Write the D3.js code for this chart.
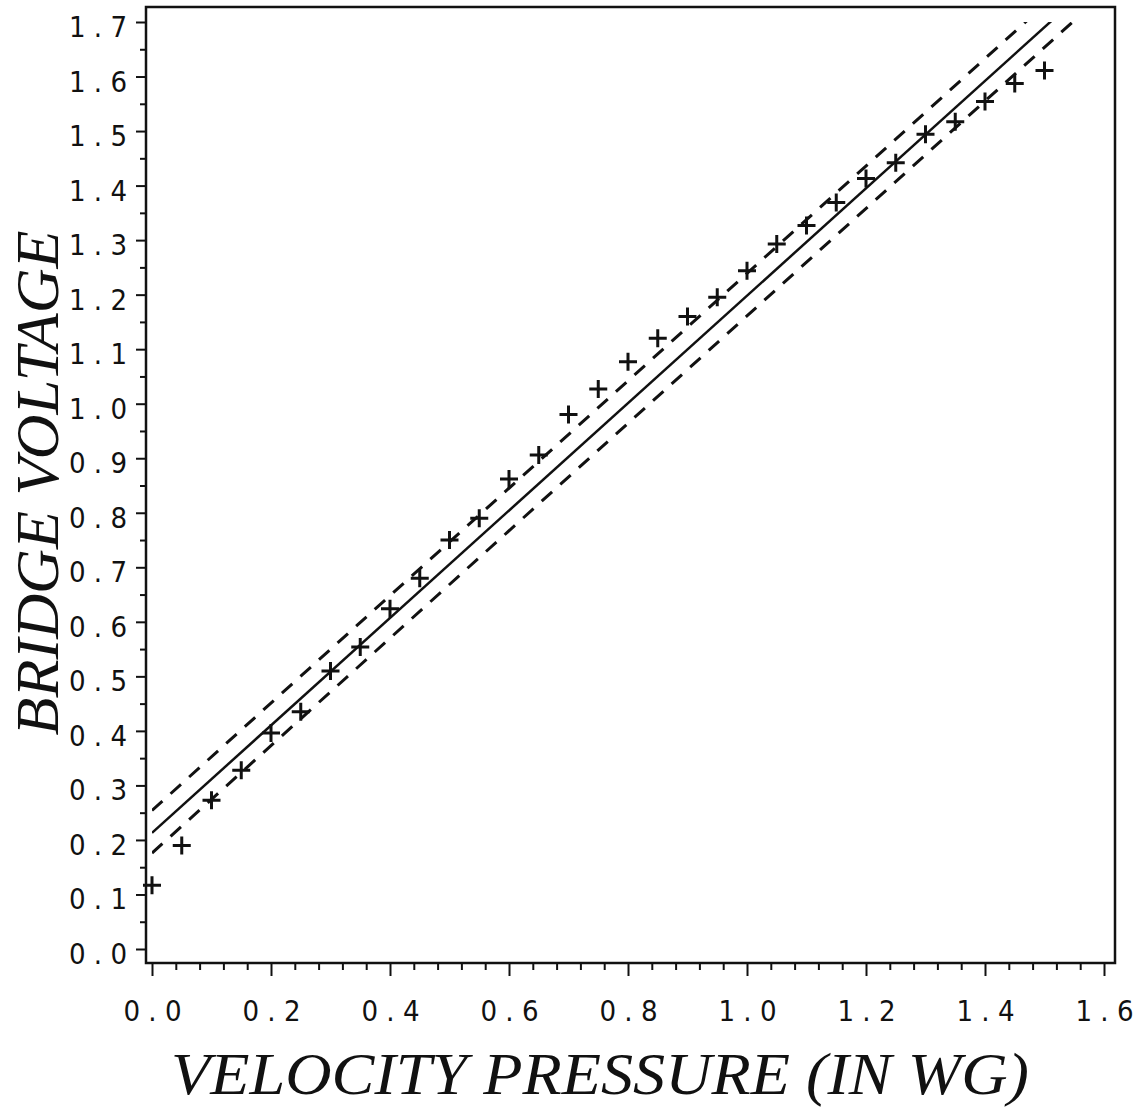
<!DOCTYPE html>
<html>
<head>
<meta charset="utf-8">
<script src="https://cdn.jsdelivr.net/npm/d3@7"></script>
<style>
  body { margin: 0; background: #fff; }
  .tickLbl { font-family: "Liberation Sans Narrow", "DejaVu Sans Condensed", "Roboto", sans-serif; font-size: 29px; fill: #111; }
  .title { font-family: "Liberation Serif", "DejaVu Serif", serif; font-style: italic; fill: #111; }
</style>
</head>
<body>
<div id="chart"></div>
<script>
// measured points (velocity pressure, bridge voltage)
var pressure = [0.00, 0.05, 0.10, 0.15, 0.20, 0.25, 0.30, 0.35, 0.40, 0.45,
                0.50, 0.55, 0.60, 0.65, 0.70, 0.75, 0.80, 0.85, 0.90, 0.95,
                1.00, 1.05, 1.10, 1.15, 1.20, 1.25, 1.30, 1.35, 1.40, 1.45, 1.50];
var voltage = [0.117, 0.190, 0.273, 0.328, 0.396, 0.435, 0.510, 0.554, 0.624, 0.680,
               0.750, 0.790, 0.862, 0.906, 0.980, 1.027, 1.077, 1.120, 1.160, 1.195,
               1.244, 1.293, 1.327, 1.369, 1.413, 1.442, 1.494, 1.517, 1.554, 1.587, 1.611];

// fitted line and band (intercept, slope)
var fitLine = [0.213, 0.985];
var upperBand = [0.254, 0.985];
var lowerBand = [0.176, 0.985];
var lineRange = [0, 1.6];

// ticks
var xMajor = [0, 0.2, 0.4, 0.6, 0.8, 1.0, 1.2, 1.4, 1.6];
var xMinor = [0.04, 0.08, 0.12, 0.16, 0.24, 0.28, 0.32, 0.36, 0.44, 0.48, 0.52, 0.56,
              0.64, 0.68, 0.72, 0.76, 0.84, 0.88, 0.92, 0.96, 1.04, 1.08, 1.12, 1.16,
              1.24, 1.28, 1.32, 1.36, 1.44, 1.48, 1.52, 1.56];
var yMajor = [0, 0.1, 0.2, 0.3, 0.4, 0.5, 0.6, 0.7, 0.8, 0.9, 1.0, 1.1, 1.2, 1.3, 1.4, 1.5, 1.6, 1.7];
var yMinor = [0.05, 0.15, 0.25, 0.35, 0.45, 0.55, 0.65, 0.75, 0.85, 0.95, 1.05, 1.15, 1.25, 1.35, 1.45, 1.55, 1.65];

var width = 1144;
var height = 1115;

var svg = d3.select("#chart")
  .append("svg")
  .attr("width", width)
  .attr("height", height);

var xScale = d3.scaleLinear().domain([0, 1.6]).range([152, 1104]);
var yScale = d3.scaleLinear().domain([0, 1.7]).range([949, 22]);

// frame box
var boxL = xScale(0) - 6;
var boxR = xScale(1.6) + 11;
var boxT = yScale(1.7) - 15;
var boxB = yScale(0) + 14;

svg.append("rect")
  .attr("x", boxL)
  .attr("y", boxT)
  .attr("width", boxR - boxL)
  .attr("height", boxB - boxT)
  .attr("fill", "none")
  .attr("stroke", "#111")
  .attr("stroke-width", 2.5);

function fmt(d) {
  return d.toFixed(1).split("").join(" ");
}

// x axis
var xAxis = svg.append("g")
  .attr("transform", "translate(0," + boxB + ")")
  .call(d3.axisBottom(xScale).tickValues(xMajor).tickSize(13).tickFormat(fmt));
svg.append("g")
  .attr("transform", "translate(0," + boxB + ")")
  .call(d3.axisBottom(xScale).tickValues(xMinor).tickSize(7).tickFormat(""));

// y axis
var yAxis = svg.append("g")
  .attr("transform", "translate(" + boxL + ",0)")
  .call(d3.axisLeft(yScale).tickValues(yMajor).tickSize(10).tickFormat(fmt));
svg.append("g")
  .attr("transform", "translate(" + boxL + ",0)")
  .call(d3.axisLeft(yScale).tickValues(yMinor).tickSize(6).tickFormat(""));

svg.selectAll(".domain").remove();
svg.selectAll(".tick line").attr("stroke", "#111").attr("stroke-width", 2);

xAxis.selectAll("text")
  .attr("class", "tickLbl")
  .attr("y", 37)
  .attr("dy", "0.71em");
yAxis.selectAll("text")
  .attr("class", "tickLbl")
  .attr("x", -19)
  .attr("dy", "0.5em");

// clip lines to the plotted range
svg.append("clipPath")
  .attr("id", "plotClip")
  .append("rect")
  .attr("x", xScale(0))
  .attr("y", yScale(1.7))
  .attr("width", xScale(1.6) - xScale(0))
  .attr("height", yScale(0) - yScale(1.7));

var line = d3.line()
  .x(function(d) { return xScale(d[0]); })
  .y(function(d) { return yScale(d[1]); });

function linePts(coef) {
  return lineRange.map(function(x) { return [x, coef[0] + coef[1] * x]; });
}

var lines = svg.append("g").attr("clip-path", "url(#plotClip)");

lines.append("path")
  .attr("d", line(linePts(fitLine)))
  .attr("fill", "none")
  .attr("stroke", "#111")
  .attr("stroke-width", 2.5);

[upperBand, lowerBand].forEach(function(b) {
  lines.append("path")
    .attr("d", line(linePts(b)))
    .attr("fill", "none")
    .attr("stroke", "#111")
    .attr("stroke-width", 3)
    .attr("stroke-dasharray", "14,11");
});

// plus markers
var pts = pressure.map(function(p, i) { return [p, voltage[i]]; });
var arm = 9;

var marks = svg.append("g").selectAll("g").data(pts).enter()
  .append("g")
  .attr("transform", function(d) {
    return "translate(" + xScale(d[0]) + "," + yScale(d[1]) + ")";
  });
marks.append("path")
  .attr("d", "M" + (-arm) + ",0H" + arm + "M0," + (-arm) + "V" + arm)
  .attr("stroke", "#111")
  .attr("stroke-width", 3)
  .attr("fill", "none");

// axis titles
svg.append("text")
  .attr("class", "title")
  .attr("x", 600)
  .attr("y", 1094)
  .attr("text-anchor", "middle")
  .attr("font-size", 60)
  .attr("textLength", 858)
  .attr("lengthAdjust", "spacingAndGlyphs")
  .text("VELOCITY PRESSURE (IN WG)");

svg.append("text")
  .attr("class", "title")
  .attr("transform", "translate(58,483)rotate(-90)")
  .attr("text-anchor", "middle")
  .attr("font-size", 62)
  .attr("textLength", 505)
  .attr("lengthAdjust", "spacingAndGlyphs")
  .text("BRIDGE VOLTAGE");
</script>
</body>
</html>
